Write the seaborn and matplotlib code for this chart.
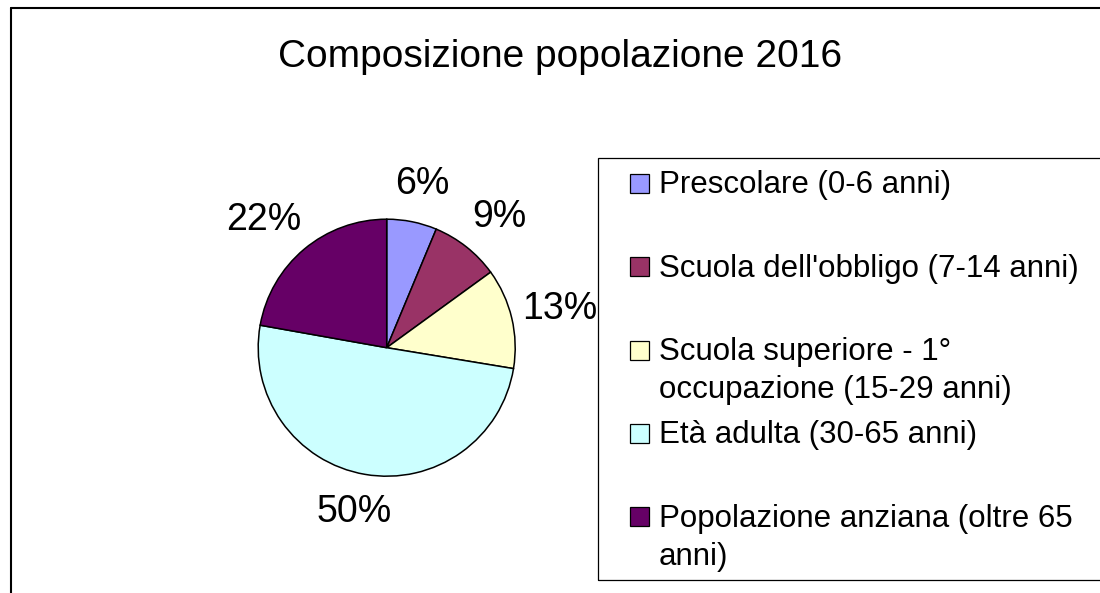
import numpy as np
import matplotlib
matplotlib.use("Agg")
import matplotlib.pyplot as plt
import seaborn as sns
from matplotlib.patches import Rectangle
from matplotlib.lines import Line2D

# ---- data ----
title = "Composizione popolazione 2016"
categories = [
    "Prescolare (0-6 anni)",
    "Scuola dell'obbligo (7-14 anni)",
    "Scuola superiore - 1°\noccupazione (15-29 anni)",
    "Età adulta (30-65 anni)",
    "Popolazione anziana (oltre 65\nanni)",
]
shares = [6.3, 8.7, 12.6, 50.2, 22.2]
colors = ["#9999FF", "#993366", "#FFFFCC", "#CCFFFF", "#660066"]

sns.set_theme(style="white")
plt.rcParams['font.family'] = ['Liberation Sans', 'DejaVu Sans']

W, H = 1100, 593
fig = plt.figure(figsize=(11, 5.93), dpi=100)
fig.patch.set_facecolor("white")


def fx(px):
    return px / W


def fy(py):
    return 1 - py / H


# outer chart frame (top and left edges visible)
fig.add_artist(Line2D([fx(11), 1.0], [fy(8), fy(8)], transform=fig.transFigure,
                      color="black", lw=1.5))
fig.add_artist(Line2D([fx(11), fx(11)], [fy(8), 0.0], transform=fig.transFigure,
                      color="black", lw=1.5))

# title
fig.text(fx(560), fy(57), title, ha="center", va="center", fontsize=28, color="black")

# pie
cx, cy, R = 386.7, 347.7, 128.5
lim = 1.6
ax = fig.add_axes([fx(cx - lim * R), fy(cy + lim * R), 2 * lim * R / W, 2 * lim * R / H])
palette = sns.color_palette(colors)
ra = 1.2
wedges, texts, autotexts = ax.pie(
    shares, colors=palette, startangle=90, counterclock=False,
    wedgeprops=dict(edgecolor="black", linewidth=1.1),
    autopct="%.0f%%", pctdistance=ra,
    textprops=dict(fontsize=27, color="black"),
)
ax.set_xlim(-lim, lim)
ax.set_ylim(-lim, lim)
ax.set_aspect("equal")
ax.axis("off")

# legend box position (pixels from top-left)
leg_left, leg_top, leg_bottom = 598, 158, 580

# Excel-style label placement: the label's near edge sits at the anchor radius
renderer = fig.canvas.get_renderer()
leg_left_disp = leg_left  # display x in pixels (origin at left)
for t, w in zip(autotexts, wedges):
    t.set_clip_on(False)
    th = np.deg2rad((w.theta1 + w.theta2) / 2)
    bb = t.get_window_extent(renderer)
    wpx, hpx = bb.width, bb.height * 0.7
    px, py = ax.transData.transform(t.get_position())
    px += wpx / 2 * np.cos(th)
    py += hpx / 2 * np.sin(th)
    if px + wpx / 2 > leg_left_disp - 1:
        px = leg_left_disp - 1 - wpx / 2
    t.set_position(ax.transData.inverted().transform((px, py)))

# legend (Excel style: entries top-aligned in equal slots)
fig.add_artist(Rectangle((fx(leg_left), fy(leg_bottom)), fx(1120) - fx(leg_left),
                         fy(leg_top) - fy(leg_bottom),
                         transform=fig.transFigure, facecolor="none",
                         edgecolor="black", lw=0.9, zorder=0))
first_base, slot, pitch = 193.3, 83.4, 37.6
msize = 19
for i, (lab, col) in enumerate(zip(categories, palette)):
    base = first_base + i * slot
    fig.add_artist(Rectangle((fx(630), fy(base - 0.5)), msize / W, msize / H,
                             transform=fig.transFigure, facecolor=col,
                             edgecolor="black", lw=0.9))
    for j, line in enumerate(lab.split("\n")):
        fig.text(fx(659), fy(base + j * pitch), line, ha="left", va="baseline",
                 fontsize=22.5, color="black")

fig.savefig("out.png", dpi=100)
